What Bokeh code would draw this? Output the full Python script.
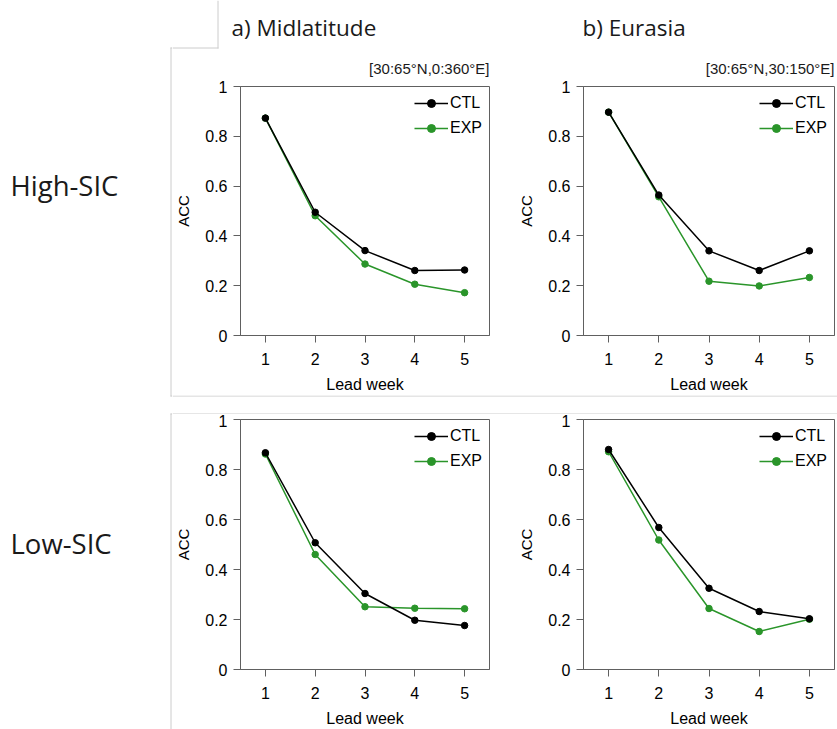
from bokeh.plotting import figure
from bokeh.layouts import column, row
from bokeh.models import FixedTicker, Range1d, Legend, LegendItem
from bokeh.core.properties import value
from bokeh.embed import file_html
from bokeh.resources import INLINE

# ---- data ----
weeks = [1, 2, 3, 4, 5]
high_mid_ctl = [0.873, 0.495, 0.341, 0.261, 0.263]
high_mid_exp = [0.873, 0.481, 0.287, 0.206, 0.172]
high_eur_ctl = [0.897, 0.564, 0.340, 0.261, 0.340]
high_eur_exp = [0.897, 0.557, 0.218, 0.199, 0.233]
low_mid_ctl = [0.867, 0.507, 0.304, 0.197, 0.176]
low_mid_exp = [0.862, 0.460, 0.251, 0.245, 0.243]
low_eur_ctl = [0.880, 0.568, 0.325, 0.232, 0.203]
low_eur_exp = [0.871, 0.518, 0.244, 0.152, 0.201]

y_ticks = [0, 0.2, 0.4, 0.6, 0.8, 1]
y_tick_labels = ["0", "0.2", "0.4", "0.6", "0.8", "1"]
x_label = "Lead week"
y_label = "ACC"
series_names = ["CTL", "EXP"]
panel_titles = ["a) Midlatitude", "b) Eurasia"]
region_labels = ["[30:65°N,0:360°E]", "[30:65°N,30:150°E]"]
row_labels = ["High-SIC", "Low-SIC"]

CTL_COLOR = "black"
EXP_COLOR = "#2a952a"
FRAME = "#606060"
BOX = "#cccccc"
PLOT_FONT = "Liberation Sans"
UI_FONT = "Open Sans"


def canvas_fig(width, height):
    """A plain figure whose frame fills it, with ranges in pixels (y down)."""
    p = figure(width=width, height=height, x_range=Range1d(0, width), y_range=Range1d(height, 0),
               toolbar_location=None, output_backend="svg", title=None,
               x_axis_location=None, y_axis_location=None,
               min_border=0, min_border_left=0, min_border_right=0,
               min_border_top=0, min_border_bottom=0,
               background_fill_color="white", border_fill_color="white")
    p.grid.visible = False
    p.outline_line_color = None
    return p


def gray_lines(p, x0, y0, x1, y1):
    p.segment(x0=x0, y0=y0, x1=x1, y1=y1, line_color=BOX, line_width=1)


def texts(p, xs, ys, labels, font, size, align="left"):
    p.text(x=xs, y=ys, text=labels, text_font=value(font), text_font_size=value(size),
           text_align=align, text_baseline="middle", text_color="#1a1a1a")


def panel(width, height, left, right, top, bottom, ctl, exp):
    p = figure(width=width, height=height, x_range=Range1d(0.5, 5.5), y_range=Range1d(0, 1),
               toolbar_location=None, output_backend="svg", title=None,
               min_border_left=left, min_border_right=right,
               min_border_top=top, min_border_bottom=bottom,
               background_fill_color="white", border_fill_color="white")
    p.grid.visible = False
    p.outline_line_color = FRAME
    p.outline_line_width = 1
    e_line = p.line(weeks, exp, color=EXP_COLOR, line_width=1.5)
    e_pts = p.scatter(weeks, exp, size=6.5, color=EXP_COLOR)
    c_line = p.line(weeks, ctl, color=CTL_COLOR, line_width=1.5)
    c_pts = p.scatter(weeks, ctl, size=6.5, color=CTL_COLOR)
    legend = Legend(items=[LegendItem(label=series_names[0], renderers=[c_line, c_pts]),
                           LegendItem(label=series_names[1], renderers=[e_line, e_pts])],
                    location="top_right", border_line_color=None, background_fill_alpha=0,
                    label_text_font=PLOT_FONT, label_text_font_size="16px",
                    label_text_color="black",
                    glyph_width=34, glyph_height=20, label_height=20, spacing=5,
                    padding=0, margin=7, label_standoff=2)
    p.add_layout(legend)
    for ax in (p.xaxis[0], p.yaxis[0]):
        ax.axis_line_color = FRAME
        ax.major_tick_line_color = FRAME
        ax.major_tick_out = 7
        ax.major_tick_in = 0
        ax.minor_tick_line_color = None
        ax.major_label_text_font = PLOT_FONT
        ax.major_label_text_font_size = "16px"
        ax.major_label_text_color = "black"
        ax.axis_label_text_font = PLOT_FONT
        ax.axis_label_text_font_style = "normal"
        ax.axis_label_text_color = "black"
    p.xaxis.ticker = FixedTicker(ticks=weeks)
    p.yaxis.ticker = FixedTicker(ticks=y_ticks)
    p.yaxis.major_label_overrides = dict(zip(y_ticks, y_tick_labels))
    p.xaxis.axis_label = x_label
    p.yaxis.axis_label = y_label
    p.xaxis.axis_label_text_font_size = "16px"
    p.yaxis.axis_label_text_font_size = "15px"
    p.xaxis.major_label_standoff = 10
    p.yaxis.major_label_standoff = 6
    p.xaxis.axis_label_standoff = 8
    p.yaxis.axis_label_standoff = 10
    return p


# left strip: row labels and the left edges of the grey boxes
left = canvas_fig(172, 729)
gray_lines(left, [170.5, 170.5, 170, 170, 170], [47, 413, 47.5, 395.5, 413.5],
           [170.5, 170.5, 172, 172, 172], [396, 729, 47.5, 395.5, 413.5])
texts(left, [10, 10], [185, 543], row_labels, UI_FONT, "27.5px")

# top band: panel titles and region labels
top = canvas_fig(665, 78)
gray_lines(top, [45.5, 0], [0, 47.5], [45.5, 46], [48, 47.5])
texts(top, [59, 410], [27, 27], panel_titles, UI_FONT, "22.5px")
texts(top, [317, 662], [68, 68], region_labels, PLOT_FONT, "15px", "right")

# separator between rows
sep = canvas_fig(665, 19)
gray_lines(sep, [0, 0], [0.5, 18.5], [665, 665], [0.5, 18.5])

pa = panel(333, 317, 67, 16, 8, 59, high_mid_ctl, high_mid_exp)
pb = panel(332, 317, 78, 3, 8, 59, high_eur_ctl, high_eur_exp)
pc = panel(333, 315, 67, 16, 5, 60, low_mid_ctl, low_mid_exp)
pd = panel(332, 315, 78, 3, 5, 60, low_eur_ctl, low_eur_exp)

right = column(top, row(pa, pb, spacing=0), sep, row(pc, pd, spacing=0), spacing=0)
layout = row(left, right, spacing=0)

open("out.html", "w").write(file_html(layout, INLINE))
